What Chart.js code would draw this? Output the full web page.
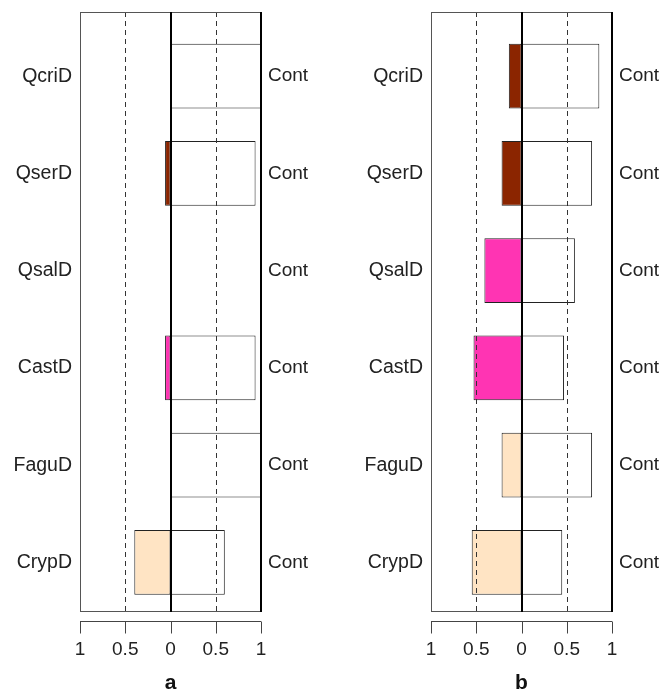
<!DOCTYPE html>
<html>
<head>
<meta charset="utf-8">
<script src="https://cdn.jsdelivr.net/npm/chart.js@4/dist/chart.umd.min.js"></script>
<style>
body { margin: 0; background: #fff; }
.panel { position: absolute; top: 0; width: 331px; height: 692px; }
#panelA { left: 0; }
#panelB { left: 331px; }
</style>
</head>
<body>
<div class="panel" id="panelA"><canvas id="chartA" width="331" height="692"></canvas></div>
<div class="panel" id="panelB"><canvas id="chartB" width="331" height="692"></canvas></div>

<script>
// Categories, bottom to top
const categories = ['CrypD', 'FaguD', 'CastD', 'QsalD', 'QserD', 'QcriD'];
const rightLabel = 'Cont';
const barColors = ['#FFE4C4', '#FFE4C4', '#FF34B3', '#FF34B3', '#8B2500', '#8B2500'];

// Panel a (left side drawn towards negative)
const leftA = [0.40, 0, 0.06, 0, 0.06, 0];
const rightA = [0.60, 1, 0.94, 0, 0.94, 1];

// Panel b
const leftB = [0.55, 0.22, 0.53, 0.41, 0.22, 0.14];
const rightB = [0.45, 0.78, 0.47, 0.59, 0.78, 0.86];

const xTicks = [-1, -0.5, 0, 0.5, 1];
const dashedAt = [-0.5, 0.5];
const solidAt = [0, 1];

const font = "'Liberation Sans', Arial, sans-serif";

// Reference lines, frame and the detached x axis
const panelLines = {
    id: 'panelLines',
    afterDatasetsDraw(chart) {
        const { ctx, chartArea: a, scales: { x } } = chart;
        ctx.save();

        ctx.strokeStyle = '#333';
        ctx.lineWidth = 1;
        ctx.setLineDash([5, 4]);
        dashedAt.forEach(v => {
            const px = Math.round(x.getPixelForValue(v)) + 0.5;
            ctx.beginPath();
            ctx.moveTo(px, a.top);
            ctx.lineTo(px, a.bottom);
            ctx.stroke();
        });
        ctx.setLineDash([]);

        // frame
        ctx.strokeStyle = '#555';
        ctx.lineWidth = 1;
        ctx.strokeRect(Math.round(a.left) + 0.5, Math.round(a.top) + 0.5,
            Math.round(a.width), Math.round(a.height));

        ctx.strokeStyle = '#000';
        ctx.lineWidth = 2;
        solidAt.forEach(v => {
            const px = Math.round(x.getPixelForValue(v));
            ctx.beginPath();
            ctx.moveTo(px, a.top);
            ctx.lineTo(px, a.bottom + 1);
            ctx.stroke();
        });

        // axis below the frame
        const ay = Math.round(a.bottom) + 10.5;
        ctx.strokeStyle = '#444';
        ctx.lineWidth = 1;
        ctx.beginPath();
        ctx.moveTo(x.getPixelForValue(xTicks[0]), ay);
        ctx.lineTo(x.getPixelForValue(xTicks[xTicks.length - 1]), ay);
        xTicks.forEach(v => {
            const px = Math.round(x.getPixelForValue(v)) + 0.5;
            ctx.moveTo(px, ay);
            ctx.lineTo(px, ay + 12);
        });
        ctx.stroke();
        ctx.restore();
    }
};

function makePanel(id, leftVals, rightVals, letter, leftW, rightW) {
    const ctx = document.getElementById(id).getContext('2d');
    const fitY = w => s => { s.width = w; s.paddingTop = 0; s.paddingBottom = 0; };
    return new Chart(ctx, {
        type: 'bar',
        data: {
            datasets: [{
                data: leftVals.map((v, i) => ({ x: -v, y: i })),
                backgroundColor: barColors,
                borderColor: '#222',
                borderWidth: c => (c.raw && c.raw.x !== 0 ? 1 : 0),
                borderSkipped: false
            }, {
                data: rightVals.map((v, i) => ({ x: v, y: i })),
                backgroundColor: '#fff',
                borderColor: '#222',
                borderWidth: c => (c.raw && c.raw.x !== 0 ? 1 : 0),
                borderSkipped: false
            }]
        },
        options: {
            indexAxis: 'y',
            responsive: false,
            animation: false,
            events: [],
            layout: { padding: { top: 12, left: 0, right: 0, bottom: 0 } },
            datasets: { bar: { categoryPercentage: 1, barPercentage: 0.667 } },
            plugins: { legend: { display: false }, tooltip: { enabled: false } },
            scales: {
                x: {
                    type: 'linear',
                    min: -1,
                    max: 1,
                    stacked: true,
                    grid: { display: false, drawTicks: false },
                    border: { display: false },
                    afterBuildTicks: s => { s.ticks = xTicks.map(v => ({ value: v })); },
                    afterFit: s => { s.height = 81; s.paddingLeft = 0; s.paddingRight = 0; },
                    ticks: {
                        padding: 27,
                        color: '#222',
                        font: { family: font, size: 19 },
                        callback: v => String(Math.abs(v))
                    },
                    title: {
                        display: true,
                        text: letter,
                        color: '#111',
                        padding: { top: 0, bottom: 0 },
                        font: { family: font, size: 21, weight: 'bold', lineHeight: 0.8 }
                    }
                },
                y: {
                    type: 'linear',
                    position: 'left',
                    min: -0.5,
                    max: 5.66,
                    offset: false,
                    stacked: true,
                    grid: { display: false, drawTicks: false },
                    border: { display: false },
                    afterBuildTicks: s => { s.ticks = categories.map((c, i) => ({ value: i })); },
                    afterFit: fitY(leftW),
                    ticks: {
                        padding: 8,
                        color: '#222',
                        font: { family: font, size: 19.5 },
                        callback: v => categories[v]
                    }
                },
                y2: {
                    type: 'linear',
                    position: 'right',
                    min: -0.5,
                    max: 5.66,
                    offset: false,
                    grid: { display: false, drawTicks: false },
                    border: { display: false },
                    afterBuildTicks: s => { s.ticks = categories.map((c, i) => ({ value: i })); },
                    afterFit: fitY(rightW),
                    ticks: {
                        padding: 7,
                        color: '#222',
                        font: { family: font, size: 19 },
                        callback: () => rightLabel
                    }
                }
            }
        },
        plugins: [panelLines]
    });
}

makePanel('chartA', leftA, rightA, 'a', 80, 70);
makePanel('chartB', leftB, rightB, 'b', 100, 50);
</script>
</body>
</html>
